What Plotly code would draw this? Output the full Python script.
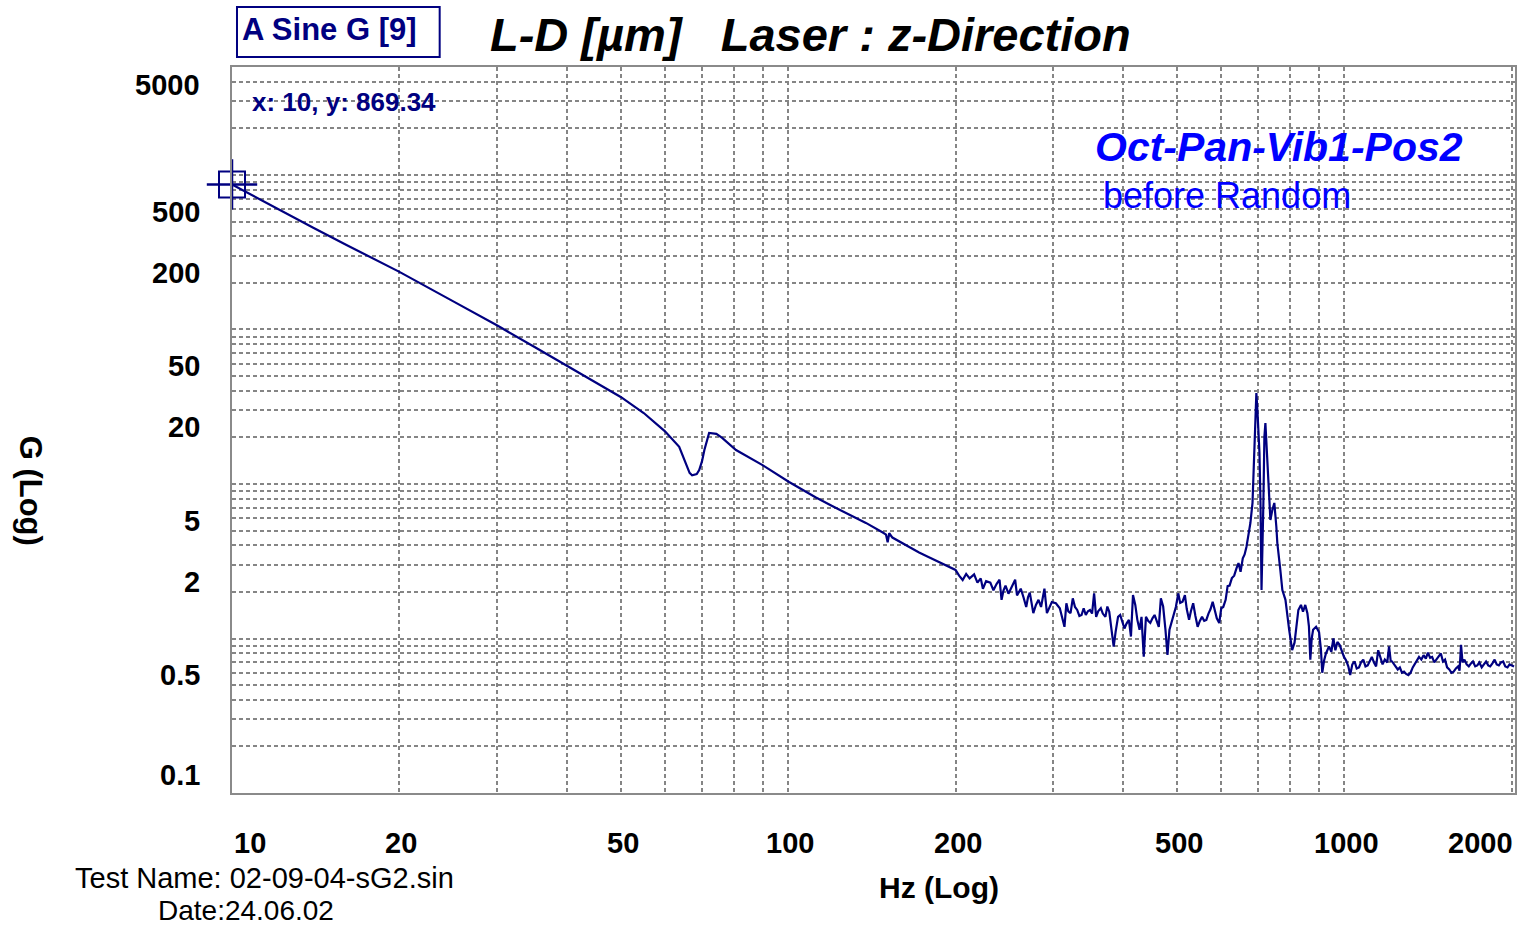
import math
import plotly.graph_objects as go

# ---------------- data ----------------
freq = [10, 12, 14, 16, 18, 20, 25, 30, 35, 40, 45, 50, 55, 60, 63.7, 66.5, 67.2, 68.5, 69.2, 70.0,
        70.7, 72.1, 74.3, 76.1, 80.6, 89.8, 100.4, 112, 120, 138, 148, 150, 151, 152, 154, 160,
        166, 172, 178, 185, 192, 197, 200, 203, 206, 209, 212, 216, 219, 222, 224, 227, 231, 234,
        237, 240, 242, 244, 246, 249, 252, 256, 258, 260, 262, 265, 268, 270, 272, 274, 276, 279,
        282, 285, 289, 292, 295, 298, 303, 308, 314, 316.5, 319, 322, 325, 328, 331, 334, 337, 340,
        343, 346, 349, 352, 355, 358, 361, 365, 368, 372, 375, 378, 381.5, 385, 388, 392, 395.5, 399,
        402.5, 406, 410, 413.5, 417, 421, 424.6, 428.5, 432, 436, 440, 444, 448, 452, 456, 460, 464,
        468, 472.5, 477, 481, 485, 490, 494, 498, 503, 507, 512, 517, 521, 526, 530, 535, 540, 545,
        550, 555, 560, 565, 570, 575, 580, 585, 590, 596, 601, 606, 612, 617, 622, 628, 634, 640,
        645.5, 651, 657, 662, 667, 672, 678, 684, 689, 692, 695, 698, 704, 707, 710, 715.5, 718.5,
        721.5, 724.5, 727.5, 730.5, 736.6, 742.5, 748.7, 755, 758, 767.5, 774, 784, 790, 796, 806,
        814, 827, 836, 843, 851, 858.5, 864, 869, 874, 879, 890, 901, 908, 913, 920, 927, 939, 948,
        956, 964, 972, 981, 990, 999, 1008, 1017, 1025, 1034, 1044, 1053, 1063, 1072, 1082, 1092,
        1102, 1111, 1121, 1131, 1141, 1151, 1162, 1172, 1183, 1195, 1204, 1212, 1219, 1228, 1237,
        1248, 1259, 1270, 1281, 1292, 1304, 1316, 1328, 1345, 1363, 1376, 1389, 1402, 1414, 1427,
        1439, 1452, 1465, 1478, 1492, 1505, 1518, 1531, 1545, 1559, 1573, 1588, 1602, 1612, 1622,
        1632, 1645, 1660, 1675, 1690, 1704, 1720, 1735, 1750, 1767, 1783, 1799, 1815, 1830, 1847,
        1864, 1880, 1897, 1914, 1931, 1948, 1966, 1983, 2000, 2020]

amp = [869.34, 610, 455, 355, 286, 236, 152, 106, 77, 58.5, 45.5, 36.6, 28.8, 22.0, 17.4, 11.8, 11.4, 11.6, 12.3, 14.0,
       16.6, 21.4, 21.1, 19.9, 16.6, 13.3, 10.3, 8.2, 7.2, 5.6, 4.85, 4.7, 4.2, 4.8, 4.5, 4.15,
       3.85, 3.6, 3.4, 3.18, 2.95, 2.82, 2.78, 2.55, 2.39, 2.62, 2.45, 2.6, 2.3, 2.45, 2.1, 2.35, 2.3, 2.05,
       2.25, 2.4, 1.78, 2.05, 2.2, 1.95, 2.15, 2.4, 1.9, 2.0, 2.1, 1.85, 1.6, 1.85, 1.98, 1.7, 1.46, 1.65,
       1.78, 1.6, 2.1, 1.46, 1.6, 1.72, 1.69, 1.57, 1.19, 1.69, 1.5, 1.46, 1.82, 1.6, 1.53, 1.4, 1.42, 1.57,
       1.42, 1.5, 1.53, 1.45, 1.96, 1.38, 1.5, 1.57, 1.45, 1.38, 1.61, 1.49, 1.14, 0.886, 1.1, 1.38, 1.42, 1.3,
       1.16, 1.25, 1.32, 1.03, 1.91, 1.65, 1.32, 1.14, 1.38, 0.763, 1.38, 1.3, 1.26, 1.35, 1.42, 1.3, 1.19,
       1.82, 1.61, 1.14, 0.783, 1.14, 1.3, 1.46, 1.6, 1.96, 1.7, 1.73, 1.91, 1.55, 1.32, 1.5, 1.69, 1.4, 1.19,
       1.3, 1.38, 1.3, 1.32, 1.45, 1.55, 1.73, 1.5, 1.35, 1.26, 1.57, 1.6, 1.78, 2.18, 2.2, 2.46, 2.55, 2.84,
       3.08, 2.7, 3.3, 3.5, 3.91, 4.6, 5.59, 7.54, 15.0, 30.1, 38.8, 30.1, 15.9, 7.54, 2.06, 7.54, 20.2,
       24.8, 19.0, 15.0, 9.57, 5.85, 6.79, 7.54, 5.27, 4.15, 2.78, 2.06, 1.78, 1.38, 1.14, 0.84,
       0.94, 1.53, 1.65, 1.49, 1.65, 1.46, 1.2, 0.73, 1.0, 1.14, 1.19, 1.10, 0.85, 0.60, 0.72, 0.80, 0.89, 0.82,
       1.0, 0.84, 0.95, 0.91, 0.82, 0.76, 0.72, 0.66, 0.58, 0.68, 0.71, 0.64, 0.65, 0.70, 0.73, 0.66,
       0.67, 0.72, 0.76, 0.70, 0.66, 0.84, 0.75, 0.68, 0.73, 0.70, 0.89, 0.72, 0.71, 0.68, 0.66,
       0.63, 0.65, 0.60, 0.61, 0.59, 0.58, 0.60, 0.65, 0.70, 0.76, 0.73, 0.78, 0.74, 0.81, 0.75,
       0.76, 0.70, 0.73, 0.77, 0.80, 0.71, 0.73, 0.65, 0.63, 0.60, 0.61, 0.64, 0.66, 0.62, 0.91,
       0.70, 0.73, 0.68, 0.66, 0.69, 0.71, 0.66, 0.67, 0.70, 0.65, 0.68, 0.71, 0.67, 0.66, 0.69,
       0.73, 0.68, 0.67, 0.70, 0.71, 0.66, 0.65, 0.68, 0.67, 0.66]

cursor_x = 10
cursor_y = 869.34

x_tick_values = [10, 20, 50, 100, 200, 500, 1000, 2000]
x_tick_labels = ["10", "20", "50", "100", "200", "500", "1000", "2000"]
y_tick_values = [5000, 500, 200, 50, 20, 5, 2, 0.5, 0.1]
y_tick_labels = ["5000", "500", "200", "50", "20", "5", "2", "0.5", "0.1"]

x_min, x_max = 10, 2028
y_min, y_max = 0.1, 5000

title_text = "L-D [µm]\u00a0\u00a0\u00a0Laser : z-Direction"
box_text = "A Sine G [9]"
cursor_text = "x: 10, y: 869.34"
name_text = "Oct-Pan-Vib1-Pos2"
sub_text = "before Random"
x_title = "Hz (Log)"
y_title = "G (Log)"
test_name = "Test Name: 02-09-04-sG2.sin"
date_text = "Date:24.06.02"

# ---------------- layout helpers ----------------
W, H = 1526, 927
PL, PR, PT, PB = 232, 1517, 67, 793
FONT = "Liberation Sans, Arial, sans-serif"
NAVY = "#000080"
BLUE = "#0000FF"


def px(x):
    return (x - PL) / (PR - PL)


def py(y):
    return (PB - y) / (PB - PT)


fig = go.Figure()
fig.add_trace(go.Scatter(x=freq, y=amp, mode="lines",
                         line=dict(color=NAVY, width=2.2), hoverinfo="x+y", showlegend=False))
fig.add_trace(go.Scatter(x=[cursor_x], y=[cursor_y], mode="markers", cliponaxis=False,
                         marker=dict(symbol="square-open", size=26, color=NAVY,
                                     line=dict(color=NAVY, width=2)), showlegend=False))
fig.add_trace(go.Scatter(x=[cursor_x], y=[cursor_y], mode="markers", cliponaxis=False,
                         marker=dict(symbol="cross-thin-open", size=36, color=NAVY,
                                     line=dict(color=NAVY, width=2.5)), showlegend=False))

ann = []
# y tick labels
n = len(y_tick_values)
for i, (v, t) in enumerate(zip(y_tick_values, y_tick_labels)):
    if i == 0:
        ya, ys = "top", 0
    elif i == n - 1:
        ya, ys = "bottom", 0
    else:
        ya, ys = "middle", 10
    ann.append(dict(text=t, xref="paper", x=px(202), xanchor="right", yref="y", y=math.log10(v),
                    yanchor=ya, yshift=ys, showarrow=False,
                    font=dict(family=FONT, size=29, color="black", weight="bold")))
# x tick labels
m = len(x_tick_values)
for i, (v, t) in enumerate(zip(x_tick_values, x_tick_labels)):
    if i == 0:
        xa, xs = "left", 0
    elif i == m - 1:
        xa, xs = "right", 3
    else:
        xa, xs = "center", 2
    ann.append(dict(text=t, xref="x", x=math.log10(v), xanchor=xa, xshift=xs, yref="paper", y=py(843),
                    yanchor="middle", showarrow=False,
                    font=dict(family=FONT, size=29, color="black", weight="bold")))

ann += [
    dict(text=title_text, xref="paper", x=px(488), xanchor="left", yref="paper", y=py(34), yanchor="middle",
         showarrow=False, font=dict(family=FONT, size=47, color="black", weight="bold", style="italic")),
    dict(text=box_text, xref="paper", x=px(240), xanchor="left", yref="paper", y=py(30), yanchor="middle",
         showarrow=False, font=dict(family=FONT, size=31, color=NAVY, weight="bold")),
    dict(text=cursor_text, xref="paper", x=px(250), xanchor="left", yref="paper", y=py(102), yanchor="middle",
         showarrow=False, font=dict(family=FONT, size=26, color=NAVY, weight="bold")),
    dict(text=name_text, xref="paper", x=px(1094), xanchor="left", yref="paper", y=py(147), yanchor="middle",
         showarrow=False, font=dict(family=FONT, size=41, color=BLUE, weight="bold", style="italic")),
    dict(text=sub_text, xref="paper", x=px(1102), xanchor="left", yref="paper", y=py(196), yanchor="middle",
         showarrow=False, font=dict(family=FONT, size=36, color=BLUE)),
    dict(text=x_title, xref="paper", x=px(940), xanchor="center", yref="paper", y=py(887), yanchor="middle",
         showarrow=False, font=dict(family=FONT, size=30, color="black", weight="bold")),
    dict(text=y_title, xref="paper", x=px(31), xanchor="center", yref="paper", y=py(491), yanchor="middle",
         textangle=90, showarrow=False, font=dict(family=FONT, size=31, color="black", weight="bold")),
    dict(text=test_name, xref="paper", x=px(73), xanchor="left", yref="paper", y=py(878), yanchor="middle",
         showarrow=False, font=dict(family=FONT, size=29, color="black")),
    dict(text=date_text, xref="paper", x=px(156), xanchor="left", yref="paper", y=py(910), yanchor="middle",
         showarrow=False, font=dict(family=FONT, size=28, color="black")),
]

shapes = [dict(type="rect", xref="paper", yref="paper", x0=px(237), x1=px(440), y0=py(57), y1=py(7),
               line=dict(color=NAVY, width=2), fillcolor="rgba(0,0,0,0)")]

axis_common = dict(type="log", dtick="D1", showticklabels=False, ticks="", showgrid=True,
                   gridcolor="#858585", gridwidth=1.5, griddash="4px,3px",
                   showline=True, linecolor="#8a8a8a", linewidth=2, mirror=True, zeroline=False)

fig.update_layout(
    width=W, height=H, autosize=False,
    margin=dict(l=PL, r=W - PR, t=PT, b=H - PB, pad=0),
    paper_bgcolor="white", plot_bgcolor="white",
    showlegend=False,
    xaxis=dict(range=[math.log10(x_min), math.log10(x_max)], **axis_common),
    yaxis=dict(range=[math.log10(y_min), math.log10(y_max)], **axis_common),
    annotations=ann, shapes=shapes,
)

fig.write_html("out.html")
